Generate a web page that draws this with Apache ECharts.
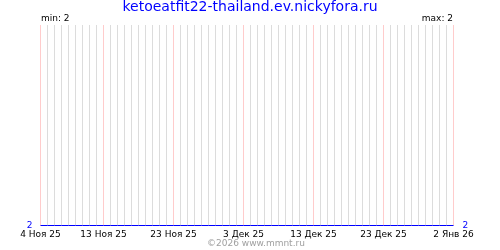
<!DOCTYPE html>
<html>
<head>
<meta charset="utf-8">
<script src="https://cdn.jsdelivr.net/npm/echarts@6/dist/echarts.min.js"></script>
<style>html,body{margin:0;padding:0;background:#fff}#c{width:500px;height:250px}</style>
</head>
<body>
<div id="c"></div>
<script>
var titleText = 'ketoeatfit22-thailand.ev.nickyfora.ru';
var monthNames = ['Янв','Фев','Мар','Апр','Май','Июн','Июл','Авг','Сен','Окт','Ноя','Дек'];
var startDate = [2025, 10, 4];
var dayCount = 60;
var categories = [];
for (var i = 0; i < dayCount; i++) {
  var d = new Date(startDate[0], startDate[1], startDate[2] + i);
  categories.push(d.getDate() + ' ' + monthNames[d.getMonth()] + ' ' + String(d.getFullYear()).slice(2));
}
var tickLabels = ['4 Ноя 25','13 Ноя 25','23 Ноя 25','3 Дек 25','13 Дек 25','23 Дек 25','2 Янв 26'];
var values = [2,2,2,2,2,2,2,2,2,2,2,2,2,2,2,2,2,2,2,2,2,2,2,2,2,2,2,2,2,2,
              2,2,2,2,2,2,2,2,2,2,2,2,2,2,2,2,2,2,2,2,2,2,2,2,2,2,2,2,2,2];
var minVal = 2, maxVal = 2;

function isTick(idx) { return tickLabels.indexOf(categories[idx]) >= 0; }

var font = 'DejaVu Sans';
var chart = echarts.init(document.getElementById('c'), null, {renderer: 'canvas'});
chart.setOption({
  animation: false,
  title: {
    text: titleText, left: 'center', top: 0, padding: 0,
    textStyle: {color: '#0000ff', fontFamily: font, fontSize: 14, fontWeight: 'normal'}
  },
  graphic: [
    {type: 'text', left: 41, top: 14, style: {text: 'min: ' + minVal, fill: '#000', font: '9px "DejaVu Sans"'}},
    {type: 'text', right: 47, top: 14, style: {text: 'max: ' + maxVal, fill: '#000', font: '9px "DejaVu Sans"'}},
    {type: 'text', left: 207, top: 239, style: {text: '©2026 www.mmnt.ru', fill: '#a0a0a0', font: '9px "DejaVu Sans"'}}
  ],
  grid: {left: 40.5, right: 46.5, top: 25, bottom: 24.5, containLabel: false},
  xAxis: {
    type: 'category', data: categories, boundaryGap: false,
    axisLine: {show: false}, axisTick: {show: false},
    axisLabel: {
      interval: function (idx) { return isTick(idx); },
      color: '#000', fontFamily: font, fontSize: 9, margin: 5,
      showMinLabel: true, showMaxLabel: true, hideOverlap: false
    },
    splitLine: {show: true, interval: function (idx) { return !isTick(idx); }, lineStyle: {color: '#dcdcdc', width: 1}}
  },
  yAxis: [
    {
      type: 'value', min: 2, max: 3, interval: 1, position: 'left',
      axisLine: {show: false}, axisTick: {show: false}, splitLine: {show: false},
      axisLabel: {color: '#0000ff', fontFamily: font, fontSize: 9, margin: 8,
        formatter: function (v) { return v === minVal ? String(v) : ''; }}
    },
    {
      type: 'value', min: 2, max: 3, interval: 1, position: 'right',
      axisLine: {show: false}, axisTick: {show: false}, splitLine: {show: false},
      axisLabel: {color: '#0000ff', fontFamily: font, fontSize: 9, margin: 9,
        formatter: function (v) { return v === maxVal ? String(v) : ''; }}
    }
  ],
  series: [{
    type: 'line', data: values, xAxisIndex: 0, yAxisIndex: 0,
    showSymbol: false, symbol: 'none',
    lineStyle: {color: '#0000ff', width: 1}, z: 5,
    markLine: {
      silent: true, symbol: ['none', 'none'], label: {show: false},
      lineStyle: {color: '#ffcccc', width: 1, type: 'solid'},
      z: 1,
      data: tickLabels.map(function (t) { return {xAxis: t}; })
    }
  }]
});
</script>
</body>
</html>
